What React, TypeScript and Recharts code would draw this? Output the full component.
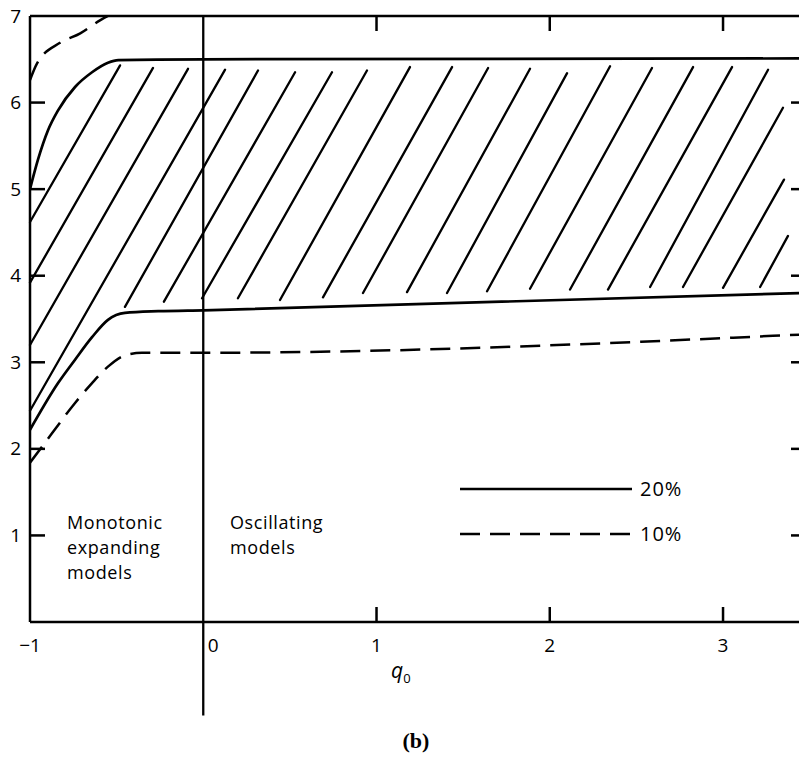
import React from 'react';
import { LineChart, Line, XAxis, YAxis, ReferenceLine, Legend } from 'recharts';

// Boundary curves (q0, value)
const upper20 = [
  { x: -1, y: 5.0 }, { x: -0.954, y: 5.34 }, { x: -0.896, y: 5.68 }, { x: -0.838, y: 5.91 },
  { x: -0.74, y: 6.18 }, { x: -0.642, y: 6.35 }, { x: -0.55, y: 6.46 }, { x: -0.49, y: 6.49 },
  { x: 0, y: 6.5 }, { x: 3.45, y: 6.51 },
];
const lower20 = [
  { x: -1, y: 2.22 }, { x: -0.838, y: 2.76 }, { x: -0.74, y: 3.03 }, { x: -0.642, y: 3.29 },
  { x: -0.55, y: 3.49 }, { x: -0.452, y: 3.57 }, { x: -0.26, y: 3.59 }, { x: 0, y: 3.6 },
  { x: 3.45, y: 3.8 },
];
const upper10 = [
  { x: -1, y: 6.26 }, { x: -0.96, y: 6.45 }, { x: -0.827, y: 6.69 }, { x: -0.71, y: 6.8 },
  { x: -0.596, y: 6.95 }, { x: -0.55, y: 7.0 },
];
const lower10 = [
  { x: -1, y: 1.84 }, { x: -0.873, y: 2.18 }, { x: -0.74, y: 2.53 }, { x: -0.642, y: 2.76 },
  { x: -0.55, y: 2.95 }, { x: -0.452, y: 3.08 }, { x: -0.354, y: 3.11 }, { x: 0, y: 3.11 },
  { x: 3.45, y: 3.32 },
];

// Hatch strokes: [q1, v1, q2, v2]
const hatch = [
  [-1, 4.62, -0.48, 6.43],
  [-1, 3.92, -0.29, 6.4],
  [-1, 3.2, -0.088, 6.39],
  [-1, 2.44, 0.126, 6.38],
  [-0.452, 3.64, 0.316, 6.37],
  [-0.227, 3.7, 0.53, 6.35],
  [-0.007, 3.74, 0.743, 6.35],
  [0.2, 3.74, 0.945, 6.37],
  [0.443, 3.72, 1.193, 6.41],
  [0.691, 3.75, 1.436, 6.41],
  [0.922, 3.8, 1.644, 6.4],
  [1.176, 3.81, 1.886, 6.39],
  [1.407, 3.8, 2.1, 6.34],
  [1.638, 3.82, 2.348, 6.42],
  [1.886, 3.85, 2.59, 6.4],
  [2.117, 3.84, 2.827, 6.41],
  [2.336, 3.84, 3.052, 6.41],
  [2.579, 3.87, 3.26, 6.38],
  [2.769, 3.87, 3.346, 5.94],
  [3.0, 3.86, 3.352, 5.11],
  [3.214, 3.87, 3.375, 4.46],
];

const xTicks = [-1, 0, 1, 2, 3];
const xTickLabels = ['\u22121', '0', '1', '2', '3'];
const topTicks = [1, 2, 3];
const yTicks = [1, 2, 3, 4, 5, 6, 7];
const rightTicks = [1, 2, 3, 4, 5, 6];
const legendItems = [
  { label: '20%', dash: '' },
  { label: '10%', dash: '20 10' },
];

const FONT = '"Open Sans", "DejaVu Sans", sans-serif';
const INK = '#000';

const LeftTick = (props: any) => {
  const { x, y, payload } = props;
  const v = payload.value;
  return (
    <g>
      {v < 7 && <line x1={x} x2={x + 15} y1={y} y2={y} stroke={INK} strokeWidth={2.5} />}
      <text x={x - 9} y={y + 6.5} textAnchor="end" fontSize={19} fontFamily={FONT} fill={INK}>
        {v}
      </text>
    </g>
  );
};

const BottomTick = (props: any) => {
  const { x, y, payload } = props;
  const v = payload.value;
  const idx = xTicks.indexOf(v);
  const dx = v === 0 ? 10 : 0;
  return (
    <g>
      {v > 0 && <line x1={x} x2={x} y1={y} y2={y - 15} stroke={INK} strokeWidth={2.5} />}
      <text x={x + dx} y={y + 30} textAnchor="middle" fontSize={19} fontFamily={FONT} fill={INK}>
        {xTickLabels[idx]}
      </text>
    </g>
  );
};

const TopTick = (props: any) => {
  const { x, y } = props;
  return <line x1={x} x2={x} y1={y} y2={y + 15} stroke={INK} strokeWidth={2.5} />;
};

const RightTick = (props: any) => {
  const { x, y } = props;
  return <line x1={x - 10} x2={x} y1={y} y2={y} stroke={INK} strokeWidth={2.5} />;
};

const renderLegend = () => (
  <svg width={260} height={75}>
    {legendItems.map((it, i) => (
      <g key={it.label}>
        <line x1={5} x2={177} y1={14 + i * 45} y2={14 + i * 45} stroke={INK} strokeWidth={2.5}
          strokeDasharray={it.dash || undefined} />
        <text x={185} y={21 + i * 45} fontSize={20} letterSpacing={1} fontFamily={FONT} fill={INK}>{it.label}</text>
      </g>
    ))}
  </svg>
);

const noteStyle: React.CSSProperties = {
  position: 'absolute', fontFamily: FONT, fontSize: 18, lineHeight: '25px', letterSpacing: '0.6px', color: INK,
};

export default function App() {
  return (
    <div style={{ position: 'absolute', left: 0, top: 0, width: 799, height: 759, overflow: 'hidden', background: '#fff' }}>
      <LineChart width={802} height={759} margin={{ top: 15, right: 0, bottom: 107, left: 0 }}>
        <XAxis type="number" dataKey="x" domain={[-1, 3.45]} ticks={xTicks} allowDataOverflow
          height={30} tickSize={0} tickMargin={0} tick={BottomTick} axisLine={{ stroke: INK, strokeWidth: 2.5 }} />
        <XAxis xAxisId="top" orientation="top" type="number" dataKey="x" domain={[-1, 3.45]} ticks={topTicks}
          allowDataOverflow height={1} tickSize={0} tickMargin={0} tick={TopTick}
          axisLine={{ stroke: INK, strokeWidth: 2.5 }} />
        <YAxis type="number" domain={[0, 7]} ticks={yTicks} allowDataOverflow width={30}
          tickSize={0} tickMargin={0} tick={LeftTick} axisLine={{ stroke: INK, strokeWidth: 2.5 }} />
        <YAxis yAxisId="right" orientation="right" type="number" domain={[0, 7]} ticks={rightTicks}
          allowDataOverflow width={1} tickSize={0} tickMargin={0} tick={RightTick}
          axisLine={{ stroke: INK, strokeWidth: 2.5 }} />

        {hatch.map((h, i) => (
          <ReferenceLine key={i} segment={[{ x: h[0], y: h[1] }, { x: h[2], y: h[3] }]}
            stroke={INK} strokeWidth={2.3} strokeLinecap="round" ifOverflow="visible" />
        ))}
        <ReferenceLine segment={[{ x: 0, y: 7 }, { x: 0, y: -1.08 }]} stroke={INK} strokeWidth={2.3} ifOverflow="visible" />

        <Line data={upper20} dataKey="y" name="20%" type="monotone" dot={false} stroke={INK} strokeWidth={2.7} isAnimationActive={false} />
        <Line data={lower20} dataKey="y" name="20% lower" type="monotone" dot={false} stroke={INK} strokeWidth={2.7} isAnimationActive={false} legendType="none" />
        <Line data={upper10} dataKey="y" name="10%" type="monotone" dot={false} stroke={INK} strokeWidth={2.5} strokeDasharray="20 10" isAnimationActive={false} />
        <Line data={lower10} dataKey="y" name="10% lower" type="monotone" dot={false} stroke={INK} strokeWidth={2.5} strokeDasharray="20 10" isAnimationActive={false} legendType="none" />

        <Legend layout="horizontal" verticalAlign="middle" align="center" content={renderLegend}
          wrapperStyle={{ left: 455, top: 475, width: 260, height: 75 }} />
      </LineChart>

      <div style={{ ...noteStyle, left: 67, top: 510 }}>
        Monotonic<br />expanding<br />models
      </div>
      <div style={{ ...noteStyle, left: 230, top: 510 }}>
        Oscillating<br />models
      </div>
      <div style={{ position: 'absolute', left: 391, top: 656, fontFamily: FONT, fontSize: 21, fontStyle: 'italic', color: INK }}>
        q<sub style={{ fontSize: 13, fontStyle: 'normal' }}>0</sub>
      </div>
      <div style={{ position: 'absolute', left: 0, width: 832, top: 728, textAlign: 'center', fontFamily: '"Liberation Serif", serif', fontWeight: 'bold', fontSize: 22, color: INK }}>
        (b)
      </div>
    </div>
  );
}
